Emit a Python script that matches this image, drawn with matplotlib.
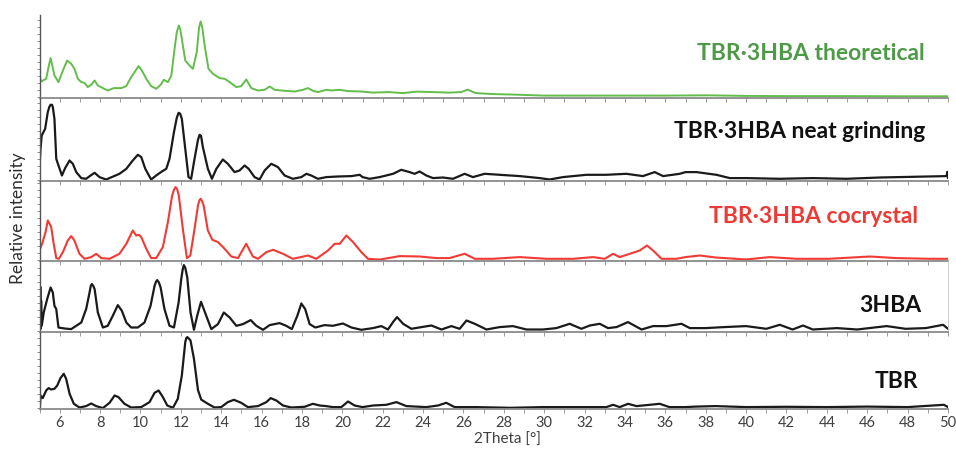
import matplotlib
matplotlib.use("Agg")
import matplotlib.pyplot as plt
from matplotlib.ticker import MultipleLocator, NullFormatter

plt.rcParams['font.family'] = ['Lato', 'DejaVu Sans']

# ---------------- data (2Theta in degrees, relative intensity per panel) ----------------
theo_x = [5.0, 5.08, 5.33, 5.48, 5.55, 5.62, 5.74, 5.94, 6.16, 6.37, 6.57, 6.73, 6.90, 7.07, 7.23, 7.39, 7.56,
          7.73, 7.89, 8.14, 8.38, 8.68, 9.05, 9.30, 9.54, 9.71, 9.91, 10.07, 10.29, 10.53, 10.78,
          11.0, 11.16, 11.36, 11.53, 11.69, 11.80, 11.90, 11.97, 12.05, 12.22, 12.43, 12.60, 12.79, 12.90,
          12.98, 13.06, 13.18,
          13.37, 13.59, 13.92, 14.17, 14.42, 14.75, 14.99, 15.24, 15.49, 15.82, 16.15, 16.40, 16.65,
          17.14, 17.64, 18.05, 18.30, 18.54, 18.79, 19.21, 19.45, 19.87, 20.28, 20.94, 21.5, 22.3,
          23.0, 23.7, 24.5, 25.3, 25.9, 26.2, 26.6, 27.5, 28.5, 30, 32, 34, 36, 38, 40, 42, 45, 48, 50]
theo_y = [22, 15.6, 18.3, 33, 39, 33, 21.6, 15, 26.6, 36.6, 33.3, 28.3, 18.3, 15, 14.3, 10, 12.3,
          16.6, 11.6, 9, 6.6, 9, 9, 11, 20, 25, 31, 26.6, 18.3, 11, 8.3,
          12.3, 17.3, 15, 21.6, 48.3, 65, 71.6, 68, 58.3, 36.6, 31.6, 28.3, 45, 69,
          75.6, 70, 51.6,
          28.3, 23.3, 19, 18.3, 15, 10, 11, 17.6, 9, 6.6, 7.3, 10.6, 7.3,
          6.3, 5.6, 7.3, 9, 6.3, 5, 7.3, 6.6, 7.3, 6, 5.6, 4.5, 5,
          4, 5.5, 5, 4.5, 5, 7.5, 4, 3, 2.5, 1.5, 1.5, 1.5, 1.5, 1.8, 1.2, 1, 1, 0.8, 0.8]

neat_x = [4.97, 5.05, 5.11, 5.28, 5.41, 5.49, 5.55, 5.62, 5.66, 5.74, 5.83, 5.94, 6.11, 6.27, 6.49, 6.65, 6.82,
          7.07, 7.31, 7.53, 7.73, 7.97, 8.30, 8.58, 8.96, 9.30, 9.62, 9.87, 10.04, 10.24, 10.53,
          10.78, 11.06, 11.28, 11.44, 11.66, 11.80, 11.89, 11.97, 12.05, 12.22, 12.38, 12.51, 12.68,
          12.85, 12.93, 13.0, 13.09,
          13.34, 13.54, 13.76, 14.08, 14.33, 14.66, 14.91, 15.16, 15.36, 15.65, 15.90, 16.15, 16.48,
          16.81, 17.14, 17.55, 17.97, 18.22, 18.46, 18.79, 19.21, 19.78, 20.45, 20.86, 21.0, 21.35,
          21.85, 22.51, 22.92, 23.33, 23.58, 23.83, 24.16, 24.49, 24.98, 25.48, 26.06, 26.47, 27.05,
          27.80, 28.79, 29.78, 30.27, 30.93, 32.09, 33.08, 34.07, 34.89, 35.47, 35.89, 36.71, 37.0,
          37.54, 38.53, 39.19, 40.02, 41.67, 43.32, 44.97, 46.63, 48.28, 49.93, 49.97, 50.0]
neat_y = [1, 31, 44.3, 51, 67.7, 73, 75, 75, 72.7, 61, 21, 14.3, 4.3, 11.7, 19.3, 16, 7.7,
          1.7, 1, 4.3, 7, 2.7, 0.3, 2.7, 6, 11, 19.3, 25, 22.7, 11, 0.3,
          4.3, 8.3, 11, 21, 47.7, 62, 67, 66, 61, 31, 2.7, 1, 21,
          40, 45, 44, 33,
          11, 1, 11, 20.3, 16, 7.7, 9.3, 14.3, 11, 2.7, 0.3, 9.3, 16,
          12.7, 4.3, 1, 2.7, 6, 4.3, 1, 2.7, 3.3, 3.7, 5, 2.7, 1,
          2.7, 6, 10, 7.7, 6, 8.3, 4.3, 1.7, 2.3, 1, 6, 2.7, 6,
          5, 3.7, 1.7, 0.3, 2.7, 5, 5, 6, 3.7, 7.7, 3.7, 6, 7.7,
          7.7, 5, 1.7, 1.7, 1, 1.7, 1, 2.3, 3, 3.7, 8, 2]

cocr_x = [4.97, 5.03, 5.13, 5.30, 5.41, 5.50, 5.58, 5.69, 5.83, 5.96, 6.16, 6.40, 6.57, 6.73, 6.98,
          7.23, 7.56, 7.81, 8.06, 8.47, 8.96, 9.30, 9.62, 9.79, 9.92, 10.04, 10.29, 10.53, 10.78,
          11.11, 11.36, 11.57, 11.66, 11.74, 11.82, 11.90, 12.10, 12.30, 12.47, 12.68, 12.85, 12.92,
          12.98, 13.05, 13.13, 13.34,
          13.56, 13.84, 14.17, 14.50, 14.83, 15.24, 15.57, 15.82, 16.24, 16.57, 17.06, 17.55, 18.30,
          18.71, 19.29, 19.62, 19.87, 20.20, 20.53, 20.94, 21.27, 21.85, 22.84, 23.83, 24.66, 25.3,
          26.06, 26.56, 27.46, 28.79, 30.11, 31.43, 32.42, 33.0, 33.41, 33.74, 34.24, 34.73, 35.09,
          35.39, 35.81, 36.55, 37.0, 37.7, 38.5, 40.0, 41.17, 42.5, 44.1, 46.13, 47.45, 49.1, 50.0]
cocr_y = [19.3, 11, 16, 27.7, 39.3, 36, 32.7, 17.7, 1.7, 1, 7.7, 19.3, 23.7, 19.3, 6,
          1, 2.7, 6, 1.7, 1, 6, 16, 29.3, 24.3, 25, 22.7, 11, 1.7, 1.7,
          12.7, 37.7, 64.3, 70, 72.7, 70.5, 64.3, 31, 1.7, 4.3, 31, 54.3, 59.5,
          61, 59, 54.3, 29.3,
          20, 17.7, 11, 3.3, 1.7, 16, 3.3, 1, 7.7, 10, 6, 1, 4.3,
          1, 9.3, 16, 16, 24.3, 17.7, 7.7, 1, 0.2, 3.7, 3.3, 1.7, 1.7,
          6, 1, 1, 2.7, 1, 1, 2.7, 1, 6, 2.7, 6, 9.3, 14.3,
          9.3, 1, 1, 2.7, 4.3, 2.3, 0.3, 2.7, 1, 1, 3.3, 1.7, 1, 1]

hba_x = [5.0, 5.02, 5.04, 5.06, 5.08, 5.11, 5.21, 5.38, 5.55, 5.66, 5.74, 5.83, 5.94, 6.24, 6.57,
         6.82, 7.07, 7.31, 7.48, 7.54, 7.59, 7.66, 7.73, 7.89, 8.14, 8.38, 8.63, 8.88, 9.08, 9.30, 9.54, 9.87,
         10.20, 10.50, 10.70, 10.77, 10.83, 10.91, 11.0, 11.19, 11.44, 11.66, 11.89, 12.02, 12.09, 12.15,
         12.22, 12.32, 12.48,
         12.65, 12.81, 13.0, 13.26, 13.51, 13.84, 14.13, 14.42, 14.75, 15.08, 15.46, 15.74, 16.07,
         16.40, 16.89, 17.22, 17.50, 17.77, 17.97, 18.16, 18.38, 18.66, 19.12, 19.53, 20.03, 20.45,
         20.94, 21.52, 21.93, 22.26, 22.51, 22.71, 23.01, 23.42, 23.92, 24.41, 24.91, 25.40, 25.81,
         26.15, 26.56, 27.14, 27.79, 28.45, 29.12, 29.94, 30.60, 31.26, 31.84, 32.26, 32.75, 33.16,
         33.58, 34.15, 34.82, 35.39, 36.06, 36.80, 37.21, 38.0, 38.9, 40.0, 41.0, 41.67, 42.3, 42.82,
         43.3, 44.5, 45.5, 46.96, 47.9, 48.9, 49.76, 50.0]
hba_y = [46, 3, 44, 2, 30, 5, 18.3, 31.7, 43.3, 38.3, 25, 21.7, 3.3, 2.3, 1.7,
         5, 8.3, 21.7, 38.3, 45, 46.7, 45, 41.7, 18.3, 3.3, 5, 15, 25.7, 20, 8.3, 3.3, 3.3,
         8.3, 25, 45, 49, 50.7, 48.5, 43.3, 21.7, 5, 3.3, 28.3, 51.7, 61, 65.7,
         63, 53.3, 18.3,
         1, 15, 29, 15, 1.7, 6.7, 18.3, 13.3, 5, 6.7, 10.7, 5, 1,
         5.7, 7.7, 5, 1.7, 15, 27.3, 21.7, 6.7, 3.3, 5.7, 5, 7.3, 3.3,
         1, 2.7, 4.7, 1.3, 8.7, 13.7, 7, 2, 3.7, 5.3, 1.3, 4.7, 2,
         10.3, 7, 1.3, 3.7, 4.7, 1.3, 1.3, 2.7, 7, 2, 5.3, 7, 2.7,
         3.7, 8.7, 1.3, 4.7, 4.7, 7, 2.7, 2.7, 3.7, 4.7, 2, 6, 1.3, 5.3,
         1.3, 2.7, 1.3, 4.7, 2, 2.7, 6, 2]

tbr_x = [5.0, 5.02, 5.05, 5.16, 5.33, 5.45, 5.58, 5.74, 5.88, 6.04, 6.20, 6.32, 6.49, 6.70, 6.98,
         7.31, 7.56, 7.81, 8.14, 8.47, 8.72, 8.91, 9.21, 9.54, 10.04, 10.45, 10.70, 10.90, 11.11,
         11.33, 11.61, 11.85, 12.05, 12.22, 12.27, 12.32, 12.40, 12.48, 12.65, 12.85, 13.01, 13.34, 13.67, 14.0,
         14.33, 14.63, 14.99, 15.32, 15.82, 16.24, 16.45, 16.73, 17.06, 17.47, 18.13, 18.54, 18.88,
         19.2, 19.53, 19.95, 20.28, 20.61, 21.0, 21.52, 22.18, 22.68, 23.17, 24.16, 24.74, 25.15,
         25.56, 26.6, 28.3, 29.94, 31.6, 33.08, 33.41, 33.74, 34.15, 34.57, 35.23, 35.72, 36.2,
         37.0, 37.5, 38.5, 40, 42, 44, 46, 48, 49.8, 50]
tbr_y = [9.3, 1, 12.6, 10, 17.6, 20, 18.6, 19.3, 22.6, 30, 34.3, 29.3, 14.3, 4.3, 0.6,
         2, 4.6, 2, 0, 5.3, 12.6, 11, 4.3, 0.6, 1, 6, 15.3, 17.6, 11,
         2.6, 0.3, 9.3, 32.6, 66, 70, 71, 69.5, 67.6, 49.3, 18, 8.5, 4.3, 0.6, 1,
         6, 8.3, 5.3, 1, 2, 6, 10, 7.6, 2.6, 0.6, 1.3, 4.3, 2.6,
         2, 1, 1, 6.6, 2.6, 1, 2.6, 3.3, 6, 2, 1, 2.6, 5.3,
         1, 1, 0.3, 1, 1, 1, 3.3, 1, 4.3, 2, 3.3, 4.3, 1,
         1, 1.5, 2, 1, 1.3, 1, 1.5, 1, 3.3, 1]

labels = ["TBR·3HBA theoretical", "TBR·3HBA neat grinding", "TBR·3HBA cocrystal", "3HBA", "TBR"]
xticks = list(range(6, 51, 2))

# ---------------- layout ----------------
W, H = 956, 451
fig = plt.figure(figsize=(W / 100, H / 100), dpi=100)

x_left, x_right = 39.5, 948.0
# panel (top px, baseline px)
panels = [(15.0, 98.3), (98.3, 181.0), (181.0, 261.0), (261.0, 332.0), (332.0, 409.3)]
series = [(theo_x, theo_y), (neat_x, neat_y), (cocr_x, cocr_y), (hba_x, hba_y), (tbr_x, tbr_y)]
line_colors = ['#62bd4b', '#1a1a1a', '#f23a35', '#1a1a1a', '#1a1a1a']
text_colors = ['#4f9a47', '#111111', '#ec3b36', '#111111', '#111111']
label_right = [925, 925, 918, 921, 918]
label_y = [54, 131, 216, 305, 382]
lws = [1.4, 1.6, 1.5, 1.6, 1.6]

for i, ((top, base), (xs, ys)) in enumerate(zip(panels, series)):
    ax = fig.add_axes([x_left / W, 1 - base / H, (x_right - x_left) / W, (base - top) / H])
    hpx = base - top
    ax.plot(xs, ys, color=line_colors[i], lw=lws[i], solid_joinstyle='round')
    ax.set_xlim(5, 50)
    ax.set_ylim(-1.2, hpx - 1.2)
    for s in ['top', 'right']:
        ax.spines[s].set_visible(False)
    ax.spines['left'].set_color('#555555')
    ax.spines['left'].set_linewidth(1.0)
    ax.spines['bottom'].set_color('#8a8a8a')
    ax.spines['bottom'].set_linewidth(1.3)
    if i == 3:
        ax.spines['right'].set_visible(True)
        ax.spines['right'].set_color('#d0d0d0')
        ax.spines['right'].set_linewidth(0.8)
    ax.yaxis.set_major_locator(MultipleLocator(7))
    ax.yaxis.set_major_formatter(NullFormatter())
    ax.tick_params(axis='y', which='both', direction='out', length=2, width=0.6,
                   color='#777777', right=False)
    ax.xaxis.set_major_locator(MultipleLocator(2))
    ax.xaxis.set_minor_locator(MultipleLocator(1))
    ax.tick_params(axis='x', which='both', direction='out', length=3, width=0.6, color='#8a8a8a')
    if i < 4:
        ax.xaxis.set_major_formatter(NullFormatter())
    else:
        ax.set_xticks(xticks)
        ax.set_xticklabels([str(t) for t in xticks])
        ax.tick_params(axis='x', labelsize=10.5, labelcolor='#404040', pad=2)
    ax.patch.set_alpha(0)
    fig.text(label_right[i] / W, 1 - label_y[i] / H, labels[i], ha='right', va='center',
             fontsize=16.5, fontweight='bold', color=text_colors[i])

fig.text(507 / W, 1 - 440 / H, "2Theta [°]", ha='center', va='center', fontsize=11, color='#404040')
fig.text(18 / W, 1 - 218 / H, "Relative intensity", ha='center', va='center', rotation=90,
         fontsize=12.5, color='#303030')

fig.savefig("out.png", dpi=100)
